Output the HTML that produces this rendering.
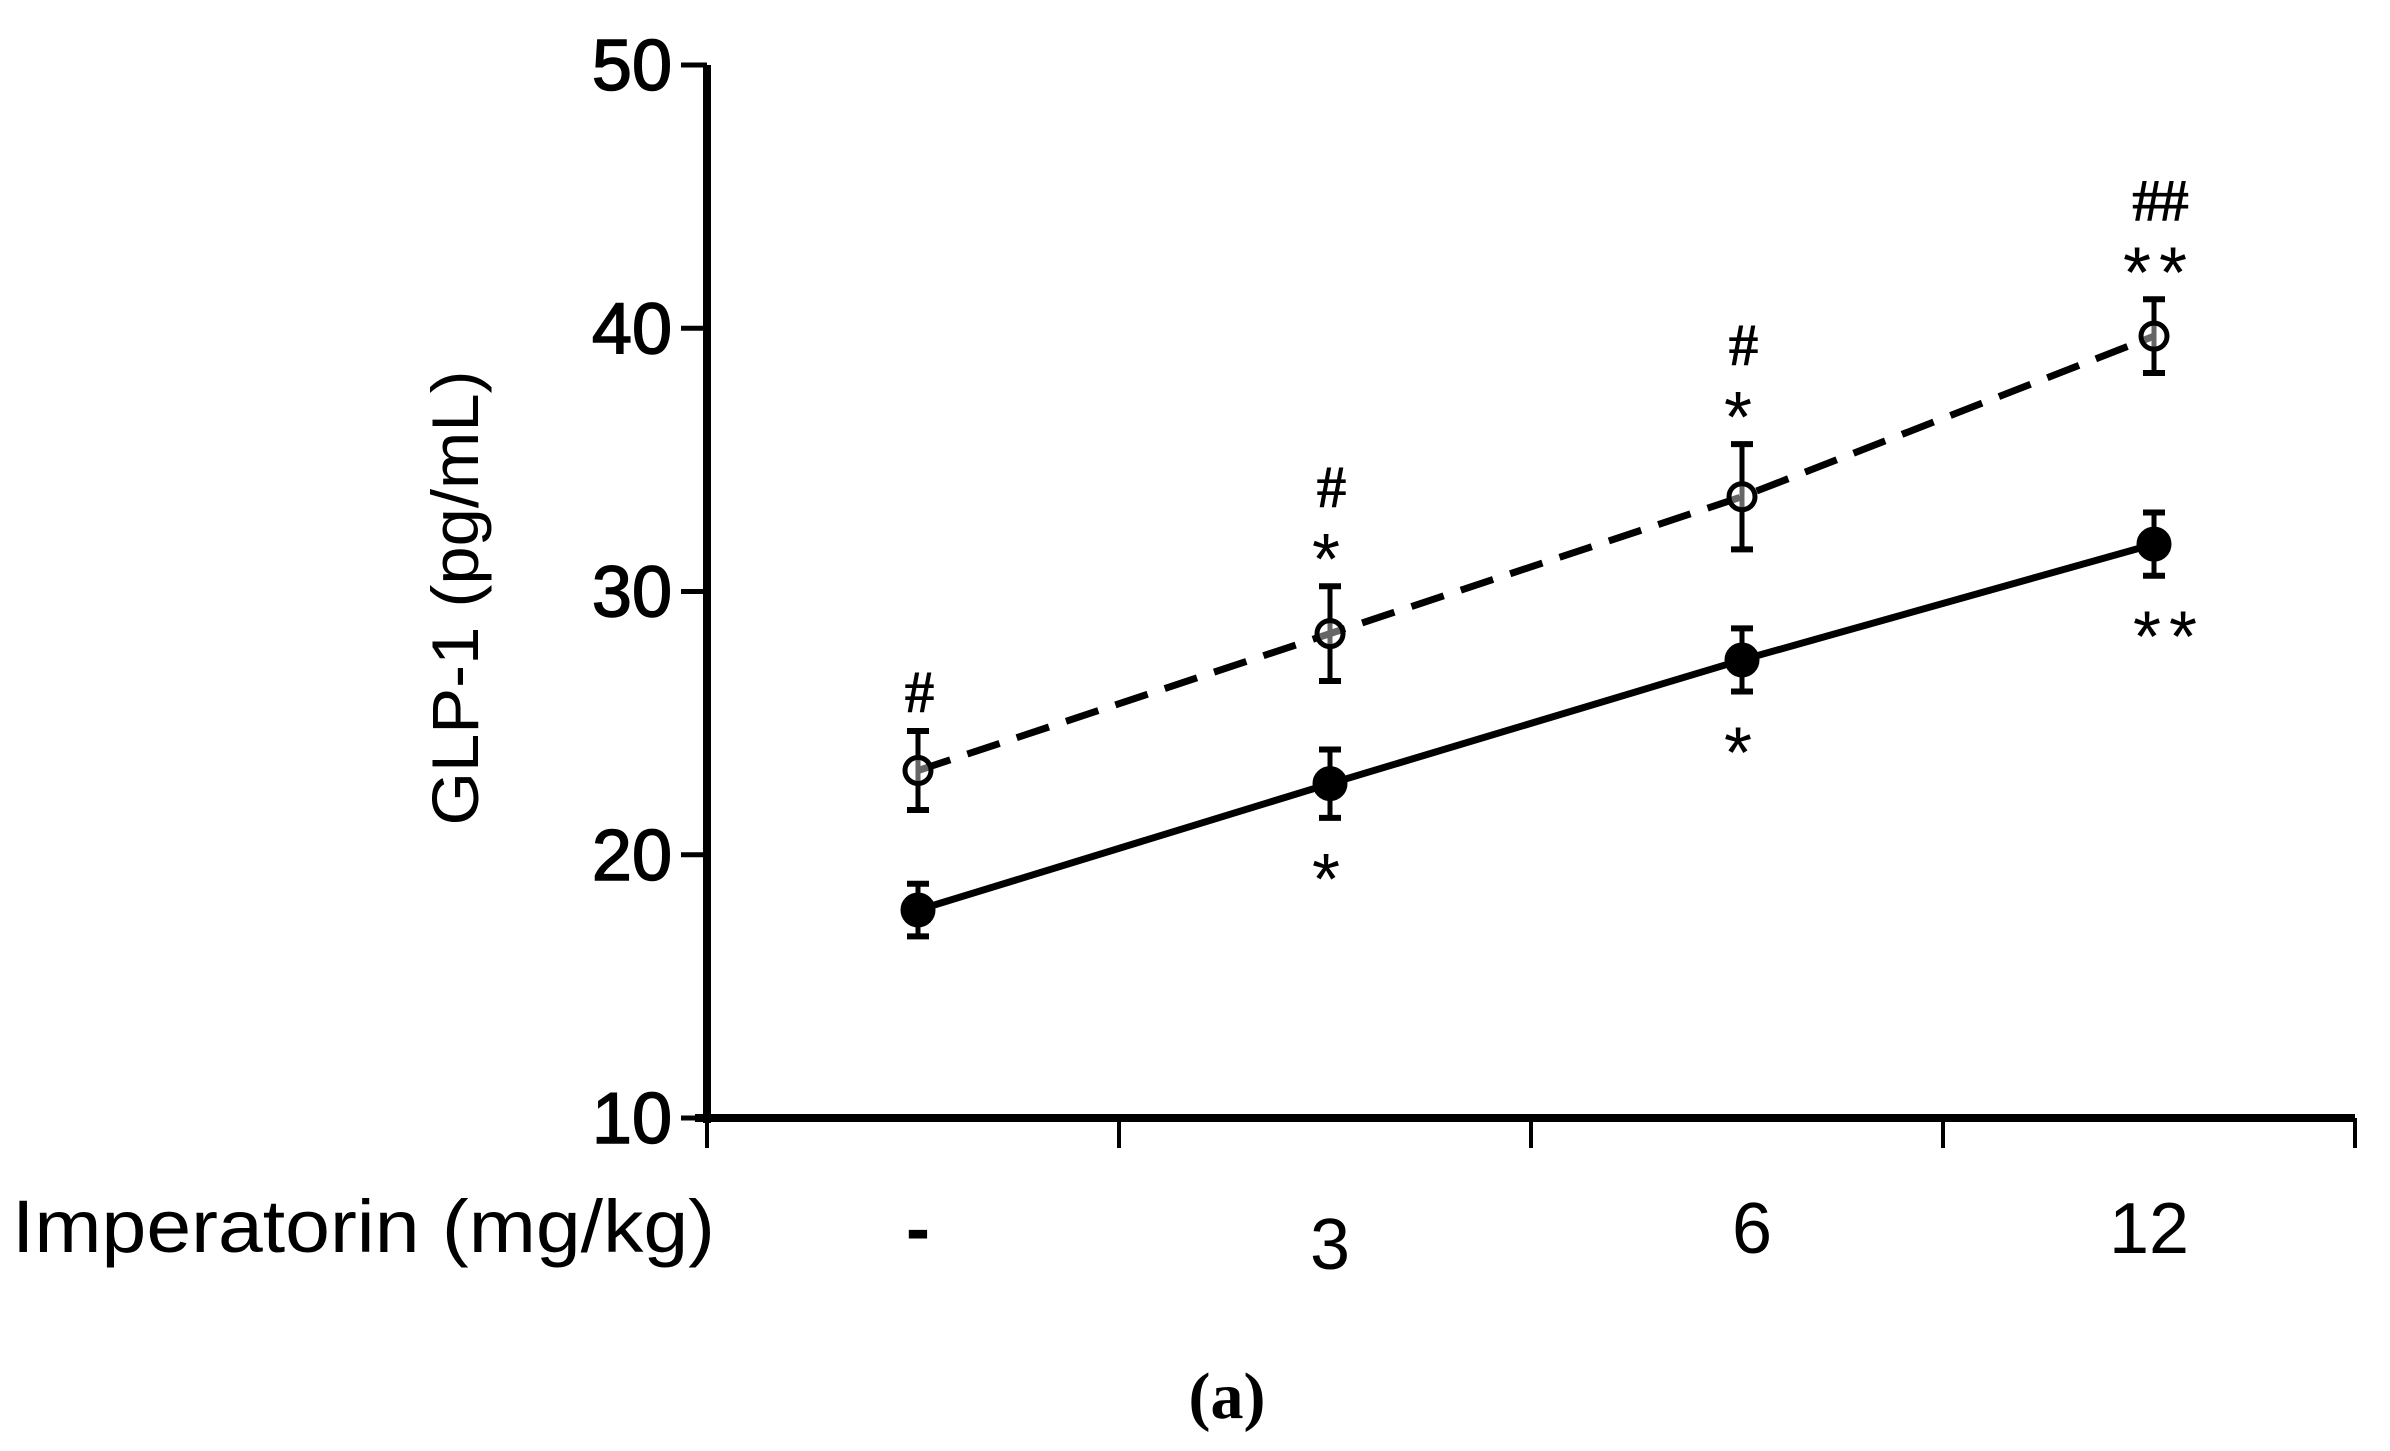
<!DOCTYPE html>
<html><head><meta charset="utf-8"><style>
html,body{margin:0;padding:0;background:#fff;}
svg{display:block;}
</style></head><body>
<svg id="chart" width="2390" height="1451" viewBox="0 0 2390 1451" xmlns="http://www.w3.org/2000/svg">
<g id="axes"></g>
<g id="series"></g>
<g id="annots"></g>
<text x="0" y="0" transform="translate(478,598) rotate(-90)" text-anchor="middle" font-family="Liberation Sans, sans-serif" font-size="66" textLength="455" lengthAdjust="spacingAndGlyphs">GLP-1 (pg/mL)</text>
<text x="12" y="1252" font-family="Liberation Sans, sans-serif" font-size="74" textLength="703" lengthAdjust="spacingAndGlyphs">Imperatorin (mg/kg)</text>
<text x="1227" y="1418" text-anchor="middle" font-family="Liberation Serif, serif" font-weight="bold" font-size="66">(a)</text>
</svg>
<script>
const categories = ['-', '3', '6', '12'];
const openValues = [23.2, 28.4, 33.6, 39.7];
const openErrors = [1.5, 1.8, 2.0, 1.4];
const filledValues = [17.9, 22.7, 27.4, 31.8];
const filledErrors = [1.0, 1.3, 1.2, 1.2];
const yTicks = [10, 20, 30, 40, 50];
const openMarks = [['#'], ['*', '#'], ['*', '#'], ['**', '##']];
const filledMarks = ['', '*', '*', '**'];

const NS = 'http://www.w3.org/2000/svg';
const X0 = 707, X1 = 2355, Y10 = 1118, Y50 = 65;
function yScale(v){ return Y10 - (v - 10) * (Y10 - Y50) / 40; }
const band = (X1 - X0) / categories.length;
function xScale(i){ return X0 + band * (i + 0.5) + 5; }
function mk(tag, attrs, parent){ const e = document.createElementNS(NS, tag); for (const k in attrs) e.setAttribute(k, attrs[k]); parent.appendChild(e); return e; }

const axes = document.getElementById('axes');
let e = mk('line', {x1:X0, y1:Y50, x2:X0, y2:Y10+5, stroke:'#000', 'stroke-width':8}, axes);


e = mk('line', {x1:X0-12, y1:Y10, x2:X1, y2:Y10, stroke:'#000', 'stroke-width':8}, axes);


yTicks.forEach(t => {
  const y = yScale(t);
  const l = mk('line', {x1:X0-26, y1:y, x2:X0, y2:y, stroke:'#000', 'stroke-width':5}, axes);
  
  
  const tx = mk('text', {x:672, y:y+25, 'text-anchor':'end', 'font-family':'Liberation Sans, sans-serif', 'font-size':72, stroke:'#000', 'stroke-width':1.5}, axes);
  tx.textContent = t;
  
  
});
for (let i = 0; i <= categories.length; i++) {
  const x = X0 + band * i;
  const l = mk('line', {x1:x, y1:Y10, x2:x, y2:Y10+30, stroke:'#000', 'stroke-width':4}, axes);
  
  
}
categories.forEach((c, i) => {
  const t = mk('text', {x:xScale(i)+(i==3?-5:i==2?10:0), y:1253 + (i==1?16:0), 'text-anchor':'middle', 'font-family':'Liberation Sans, sans-serif', 'font-size':72, 'font-weight': i==0 ? 'bold' : 'normal'}, axes);
  t.textContent = c;
  
  
});

const series = document.getElementById('series');
function drawSeries(vals, errs, dashed, filled, name){
  const pts = vals.map((v, i) => xScale(i) + ',' + yScale(v)).join(' ');
  const pl = mk('polyline', {points:pts, fill:'none', stroke:'#000', 'stroke-width':7, 'stroke-dasharray': dashed ? '34 18' : 'none'}, series);
  
  
  vals.forEach((v, i) => {
    const x = xScale(i), y = yScale(v), yt = yScale(v + errs[i]), yb = yScale(v - errs[i]);
    const g = mk('g', {}, series);
    
    
    mk('line', {x1:x, y1:yt, x2:x, y2:yb, stroke:'#000', 'stroke-width':5}, g);
    mk('line', {x1:x-11, y1:yt, x2:x+11, y2:yt, stroke:'#000', 'stroke-width':6}, g);
    mk('line', {x1:x-11, y1:yb, x2:x+11, y2:yb, stroke:'#000', 'stroke-width':6}, g);
    mk('circle', {cx:x, cy:y, r: filled ? 15 : 13, fill: filled ? '#000' : '#fff', 'fill-opacity': filled ? 1 : 0.4, stroke:'#000', 'stroke-width':5}, g);
  });
}
drawSeries(openValues, openErrors, true, false, 'hfd-imperatorin');
drawSeries(filledValues, filledErrors, false, true, 'control-imperatorin');

const annots = document.getElementById('annots');
function sym(txt, x, y, name){
  const isHash = txt.indexOf('#') >= 0;
  const t = mk('text', {x:x, y: isHash ? y+21 : y+38, 'text-anchor':'middle', 'font-family': isHash ? 'Liberation Serif, serif' : 'Liberation Sans, sans-serif', 'font-weight': isHash ? 'bold' : 'normal', 'font-size': isHash ? 60 : 72, 'letter-spacing': isHash ? -3 : 8}, annots);
  t.textContent = txt;
  
  
}
openMarks.forEach((m, i) => {
  const top = yScale(openValues[i] + openErrors[i]);
  m.forEach((s, k) => sym(s, xScale(i) + (s.length > 1 ? 5 : 0), top - 40 - k * 60, 'significance-mark-upper'));
});
filledMarks.forEach((s, i) => {
  if (!s) return;
  const bot = yScale(filledValues[i] - filledErrors[i]);
  sym(s, xScale(i) + (s.length > 1 ? 15 : 0), bot + 48, 'significance-mark-lower');
});
</script>
</body></html>
